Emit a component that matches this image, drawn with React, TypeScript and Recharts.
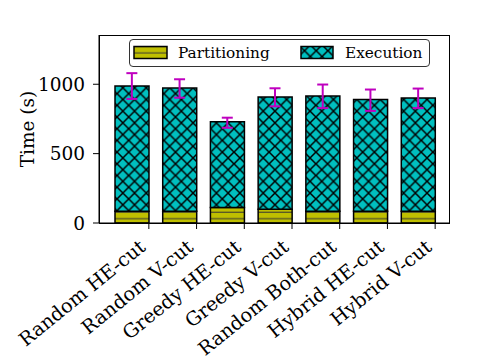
import { ComposedChart, Bar, Line, ErrorBar, XAxis, YAxis } from 'recharts'

const methods = ['Random HE-cut', 'Random V-cut', 'Greedy HE-cut', 'Greedy V-cut', 'Random Both-cut', 'Hybrid HE-cut', 'Hybrid V-cut']
const partitioning = [85, 85, 112, 100, 85, 85, 85]
const execution = [903, 888, 618, 808, 830, 806, 816]
// whisker ends
const errLow = [894, 903, 686, 841, 828, 808, 828]
const errHigh = [1080, 1036, 759, 971, 998, 962, 969]
const yTicks = [0, 500, 1000]

const data = methods.map((name, i) => {
  const total = partitioning[i] + execution[i]
  return {
    name,
    partitioning: partitioning[i],
    execution: execution[i],
    total,
    err: [total - errLow[i], errHigh[i] - total]
  }
})

const FONT = 'DejaVu Serif'
const BAR_SIZE = 34
const CYAN = '#00bfbf'
const OLIVE = '#bfbf00'
const MAGENTA = '#bf00bf'

function Patterns({ prefix }: { prefix: string }) {
  return (
    <defs>
      <pattern id={`${prefix}-cross`} patternUnits="userSpaceOnUse" width={11.7} height={11.7}>
        <rect width={11.7} height={11.7} fill={CYAN} />
        <path d="M0,0 L11.7,11.7 M0,11.7 L11.7,0" stroke="#000" strokeWidth={1.5} />
      </pattern>
      <pattern id={`${prefix}-dash`} patternUnits="userSpaceOnUse" width={6.4} height={6.4}>
        <rect width={6.4} height={6.4} fill={OLIVE} />
        <path d="M0,1.1 L6.4,1.1" stroke="#333" strokeWidth={1} />
      </pattern>
    </defs>
  )
}

// ticks sit at the right edge of each bar, labels tilted
const XTick = (props: any) => {
  const { x, y, payload } = props
  const tx = x + BAR_SIZE / 2
  return (
    <g>
      <line x1={tx} y1={y} x2={tx} y2={y + 6} stroke="#000" strokeWidth={1} />
      <text
        transform={`translate(${tx - 2},${y + 26}) rotate(-39)`}
        textAnchor="end"
        fontSize={19.3}
        fontFamily={FONT}
        fill="#000"
      >
        {payload.value}
      </text>
    </g>
  )
}

const LegendBox = () => (
  <div
    style={{
      position: 'absolute',
      left: 129,
      top: 39,
      width: 301,
      height: 28,
      boxSizing: 'border-box',
      border: '1.2px solid #333',
      borderRadius: 4,
      background: '#fff',
      overflow: 'hidden'
    }}
  >
    <svg width={301} height={28} style={{ position: 'absolute', left: -1, top: -1 }}>
      <Patterns prefix="lg" />
      <rect x={5} y={7.5} width={33} height={12} fill="url(#lg-dash)" stroke="#000" strokeWidth={1.5} />
      <rect x={172} y={7.5} width={32} height={12} fill="url(#lg-cross)" stroke="#000" strokeWidth={1.5} />
      <text x={49} y={19} fontFamily={FONT} fontSize={15.3}>Partitioning</text>
      <text x={216} y={19} fontFamily={FONT} fontSize={15.3}>Execution</text>
    </svg>
  </div>
)

export default function App() {
  return (
    <div style={{ position: 'absolute', left: 0, top: 0, width: 499, height: 360, background: '#fff' }}>
      <ComposedChart width={499} height={360} data={data} margin={{ top: 35, right: 50, left: 0, bottom: 0 }}>
        <Patterns prefix="ch" />
        <XAxis
          dataKey="name"
          height={137}
          padding={{ left: 9, right: 7 }}
          axisLine={{ stroke: '#000', strokeWidth: 1 }}
          tickLine={false}
          tickSize={0}
          tickMargin={0}
          interval={0}
          tick={<XTick />}
        />
        <YAxis
          width={99}
          domain={[0, 1355]}
          ticks={yTicks}
          allowDataOverflow
          axisLine={{ stroke: '#000', strokeWidth: 1 }}
          tickLine={{ stroke: '#000', strokeWidth: 1 }}
          tickSize={6}
          tickMargin={8}
          tick={{ fontSize: 18.5, fontFamily: FONT, fill: '#000' }}
          label={{ value: 'Time (s)', angle: -90, position: 'insideLeft', offset: 27, style: { fontSize: 18.5, fontFamily: FONT, fill: '#000', textAnchor: 'middle' } }}
        />
        <Bar dataKey="partitioning" stackId="a" barSize={BAR_SIZE} fill="url(#ch-dash)" stroke="#000" strokeWidth={1.5} isAnimationActive={false} />
        <Bar dataKey="execution" stackId="a" barSize={BAR_SIZE} fill="url(#ch-cross)" stroke="#000" strokeWidth={1.5} isAnimationActive={false} />
        <Line dataKey="total" stroke="none" dot={false} activeDot={false} legendType="none" isAnimationActive={false}>
          <ErrorBar dataKey="err" direction="y" width={5.5} stroke={MAGENTA} strokeWidth={2} />
        </Line>
      </ComposedChart>
      {/* axes frame (top and right spines) */}
      <div style={{ position: 'absolute', left: 99, top: 35, width: 351, height: 189, boxSizing: 'border-box', border: '1px solid #000', pointerEvents: 'none' }} />
      <LegendBox />
    </div>
  )
}
